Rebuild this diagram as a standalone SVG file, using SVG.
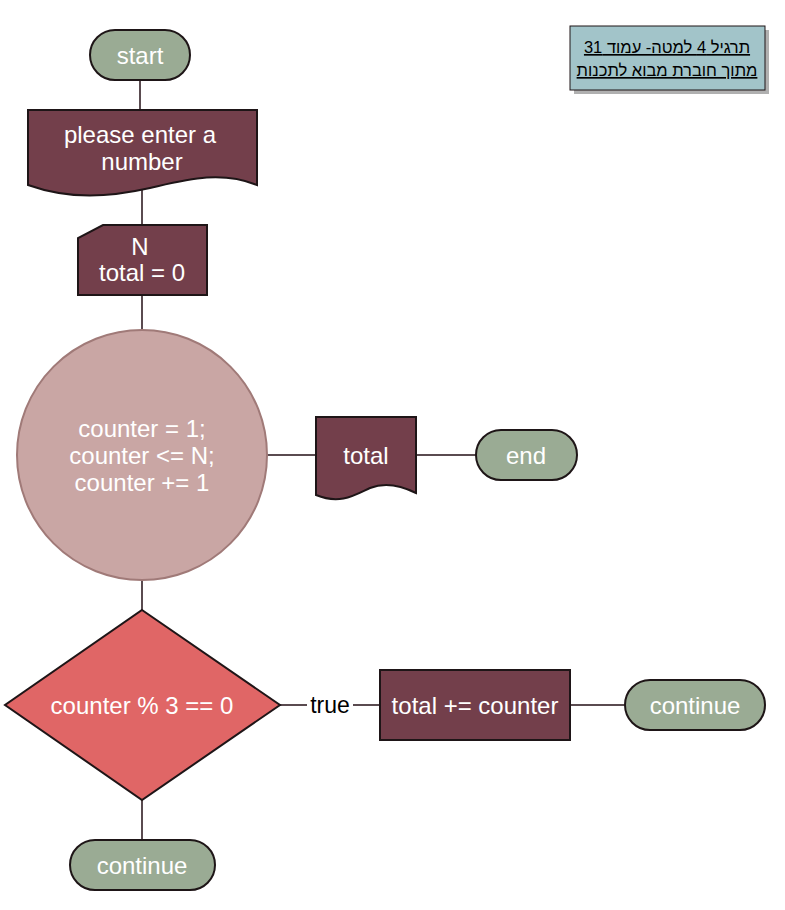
<svg xmlns="http://www.w3.org/2000/svg" width="785" height="910" viewBox="0 0 785 910">
<defs>
<style>
.lbl{font-family:"Liberation Sans",Arial,sans-serif;font-size:24px;fill:#ffffff;text-anchor:middle;dominant-baseline:central}
.term{fill:#9aab94;stroke:#1e1517;stroke-width:2}
.dark{fill:#733f4b;stroke:#1e1517;stroke-width:2}
.conn{stroke:#5a4b50;stroke-width:2;fill:none}
.note{font-family:"Liberation Sans",Arial,sans-serif;font-size:16.5px;fill:#000;text-anchor:middle;text-decoration:underline}
</style>
</defs>
<rect width="785" height="910" fill="#ffffff"/>
<g id="connectors">
<line class="conn" x1="140" y1="80" x2="140" y2="111"/>
<line class="conn" x1="142" y1="190" x2="142" y2="226"/>
<line class="conn" x1="142" y1="295" x2="142" y2="330"/>
<line class="conn" x1="267" y1="455" x2="316" y2="455"/>
<line class="conn" x1="416" y1="455" x2="476" y2="455"/>
<line class="conn" x1="142" y1="580" x2="142" y2="610"/>
<line class="conn" x1="280" y1="705" x2="307" y2="705"/>
<line class="conn" x1="353" y1="705" x2="380" y2="705"/>
<text x="330" y="705" font-family="Liberation Sans, Arial, sans-serif" font-size="23" fill="#000" text-anchor="middle" dominant-baseline="central">true</text>
<line class="conn" x1="570" y1="705" x2="625" y2="705"/>
<line class="conn" x1="142" y1="800" x2="142" y2="840"/>
</g>
<g id="note">
<rect x="574" y="30" width="195" height="64" fill="#b0b0b0"/>
<rect x="570" y="26" width="195" height="64" fill="#a2c4c9" stroke="#1e1517" stroke-width="1"/>
<text class="note" x="667" y="53" direction="rtl" unicode-bidi="embed"> תרגיל 4 למטה- עמוד 31</text>
<text class="note" x="667" y="76" direction="rtl" unicode-bidi="embed">מתוך חוברת מבוא לתכנות</text>
</g>
<g id="start">
<rect class="term" x="90" y="30" width="100" height="50" rx="25"/>
<text class="lbl" x="140" y="55">start</text>
</g>
<g id="input-prompt">
<path class="dark" d="M28,110 H257 V185 C220,170 185,180 150,188 C110,197 70,200 28,185 Z"/>
<text class="lbl" x="140" y="134">please enter a</text>
<text class="lbl" x="142" y="161">number</text>
</g>
<g id="input-vars">
<path class="dark" d="M103,225 H207 V295 H78 V238 Z"/>
<text class="lbl" x="140" y="246">N</text>
<text class="lbl" x="142" y="272">total = 0</text>
</g>
<g id="loop">
<circle cx="142" cy="455" r="125" fill="#c9a6a4" stroke="#a07a78" stroke-width="2"/>
<text class="lbl" x="142" y="428">counter = 1;</text>
<text class="lbl" x="142" y="455">counter &lt;= N;</text>
<text class="lbl" x="142" y="482">counter += 1</text>
</g>
<g id="output-total">
<path class="dark" d="M316,417 H416 V493 C400,485 385,482 370,488 C355,495 340,505 316,495 Z"/>
<text class="lbl" x="366" y="455">total</text>
</g>
<g id="end">
<rect class="term" x="476" y="430" width="101" height="50" rx="25"/>
<text class="lbl" x="526" y="455">end</text>
</g>
<g id="condition">
<polygon points="142,610 280,705 142,800 5,705" fill="#e06666" stroke="#1e1517" stroke-width="2"/>
<text class="lbl" x="142" y="705">counter % 3 == 0</text>
</g>
<g id="add">
<rect class="dark" x="380" y="670" width="190" height="70"/>
<text class="lbl" x="475" y="705">total += counter</text>
</g>
<g id="continue-right">
<rect class="term" x="625" y="680" width="140" height="50" rx="25"/>
<text class="lbl" x="695" y="705">continue</text>
</g>
<g id="continue-bottom">
<rect class="term" x="70" y="840" width="145" height="50" rx="25"/>
<text class="lbl" x="142" y="865">continue</text>
</g>
</svg>
